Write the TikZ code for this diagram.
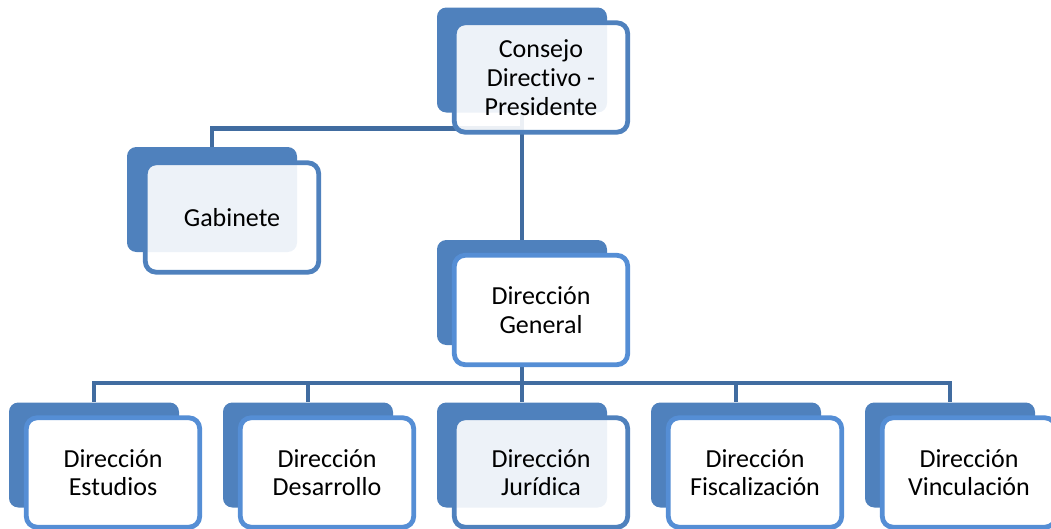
\documentclass[tikz,border=0pt]{standalone}
\usepackage{fontspec}
\setmainfont{Carlito}[RawFeature=-liga]
\usetikzlibrary{positioning}
\definecolor{backblue}{RGB}{79,129,189}
\definecolor{edgeblue}{RGB}{85,142,213}
\definecolor{linkblue}{RGB}{65,108,160}
\tikzset{shadowbox/.style={fill=backblue,rounded corners=7pt,minimum width=127.5pt,minimum height=78.75pt,inner sep=0pt},
         unitbox/.style={draw=edgeblue,line width=3.6pt,fill=white,rounded corners=8pt,minimum width=130pt,minimum height=82pt,
                         align=center,inner sep=2pt,font=\fontsize{19.5}{21.5}\selectfont},
         glassbox/.style={unitbox,draw=backblue,fill opacity=0.9,text opacity=1},
         link/.style={draw=linkblue,line width=3.6pt},
        }

\begin{document}
\begin{tikzpicture}[x=0.75pt,y=-0.75pt]
        \useasboundingbox (0,0) rectangle (1051,529);

        \node[shadowbox](consB)at(522,60){};
        \node[shadowbox](gabB)at(212,199.5){};
        \node[shadowbox](dgB)at(522,292.5){};
        \foreach \n/\x in {est/94,des/308,jur/522,fis/736,vin/950}
            \node[shadowbox](\n B)at(\x,455){};

        \draw[link](consB.south)--++(0,15.5)-|(gabB.north);
        \draw[link](consB.south)--(dgB.north);
        \coordinate(bus)at(522,383);
        \draw[link](dgB.south)--(bus);
        \foreach \n in {est,des,jur,fis,vin}
            \draw[link](bus)-|(\n B.north);

        \node[glassbox](cons)at([shift={(19,17.5)}]consB){Consejo\\Directivo -\\Presidente};
        \node[glassbox](gab)at([shift={(20,18)}]gabB){Gabinete};
        \node[unitbox](dg)at([shift={(19,17.5)}]dgB){Dirección\\General};
        \foreach \n/\t/\s in {est/Estudios/unitbox,des/Desarrollo/unitbox,jur/Jurídica/glassbox,fis/Fiscalización/unitbox,vin/Vinculación/unitbox}
            \node[\s](\n)at([shift={(19,17.5)}]\n B){Dirección\\\t};
    \end{tikzpicture}
\end{document}
